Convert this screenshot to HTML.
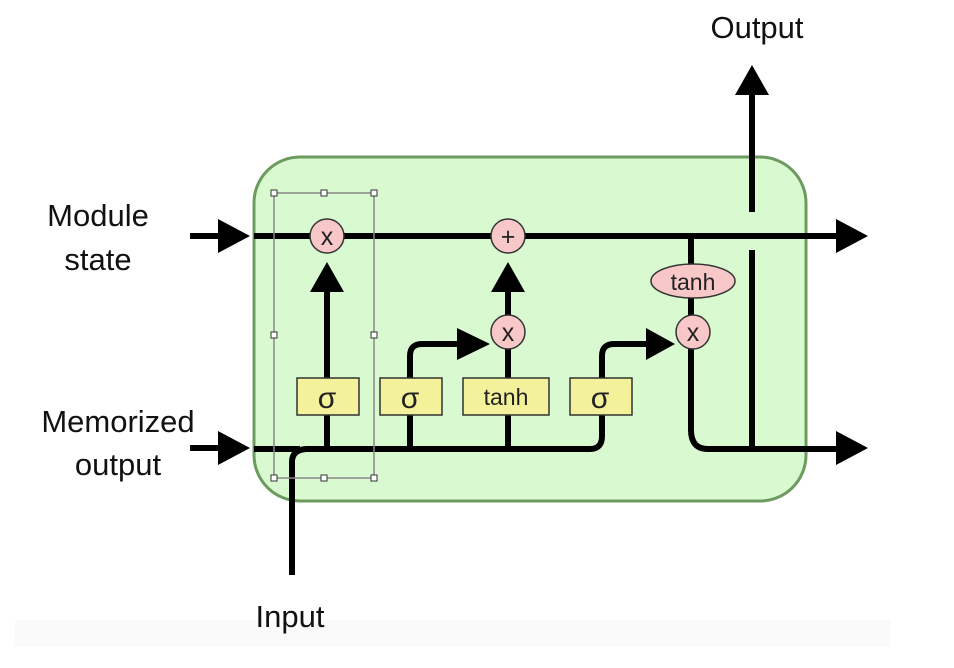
<!DOCTYPE html>
<html><head><meta charset="utf-8"><style>
html,body{margin:0;padding:0;background:#fff;}
svg{display:block;}
text{font-family:"Liberation Sans",sans-serif;}
</style></head><body>
<svg width="954" height="668" viewBox="0 0 954 668">
<rect x="15" y="620" width="875" height="27" fill="#fafafa"/>
<rect x="254" y="157" width="552" height="344" rx="46" fill="#d9fad0" stroke="#6d9a5e" stroke-width="3"/>
<g fill="none" stroke="#000" stroke-width="6">
<line x1="190" y1="236" x2="220" y2="236"/>
<line x1="190" y1="448" x2="220" y2="448"/>
<line x1="254" y1="236" x2="840" y2="236"/>
<path d="M292,575 V462 Q292,450 306,449 H590 Q602,449 602,436 V415"/>
<line x1="254" y1="449" x2="300" y2="449"/>
<path d="M602,378 V356 Q602,344 614,344 H655"/>
<path d="M410,449 V356 Q410,344 422,344 H470"/>
<line x1="327" y1="449" x2="327" y2="415"/>
<line x1="327" y1="378" x2="327" y2="290"/>
<line x1="508" y1="449" x2="508" y2="415"/>
<line x1="508" y1="378" x2="508" y2="290"/>
<line x1="691" y1="236" x2="691" y2="264"/>
<line x1="691" y1="298" x2="691" y2="316"/>
<path d="M691,348 V430 Q691,449 708,449 H840"/>
<line x1="752" y1="448" x2="752" y2="250"/>
<line x1="752" y1="212" x2="752" y2="92"/>
</g>
<g fill="#000">
<polygon points="218,219 250,236 218,253"/>
<polygon points="218,431 250,448 218,465"/>
<polygon points="836,219 868,236 836,253"/>
<polygon points="836,431 868,448 836,465"/>
<polygon points="310,292 327,262 344,292"/>
<polygon points="491,292 508,262 525,292"/>
<polygon points="457,328 490,344 457,360"/>
<polygon points="646,328 675,344 646,360"/>
<polygon points="735,95 752,65 769,95"/>
</g>
<g fill="#f8c8c8" stroke="#333" stroke-width="1.5">
<circle cx="327" cy="236" r="17"/>
<circle cx="508" cy="236" r="17"/>
<circle cx="508" cy="332" r="17"/>
<circle cx="693" cy="332" r="17"/>
<ellipse cx="693" cy="281" rx="42" ry="17"/>
</g>
<g fill="#f3f199" stroke="#333" stroke-width="1.5">
<rect x="297" y="378" width="62" height="37"/>
<rect x="380" y="378" width="62" height="37"/>
<rect x="463" y="378" width="86" height="37"/>
<rect x="570" y="378" width="62" height="37"/>
</g>
<g font-size="25" text-anchor="middle" fill="#222">
<text x="327" y="245">x</text>
<text x="508" y="245">+</text>
<text x="508" y="341">x</text>
<text x="693" y="341">x</text>
<text x="693" y="290" font-size="23">tanh</text>
<text x="506" y="405" font-size="23">tanh</text>
<text x="327" y="408" font-size="30">σ</text>
<text x="410" y="408" font-size="30">σ</text>
<text x="600" y="408" font-size="30">σ</text>
</g>
<g fill="none" stroke="#888" stroke-width="1.5">
<rect x="274" y="193" width="100" height="285"/>
</g>
<g fill="#fff" stroke="#333" stroke-width="1">
<rect x="271" y="190" width="6" height="6"/><rect x="321" y="190" width="6" height="6"/><rect x="371" y="190" width="6" height="6"/>
<rect x="271" y="332" width="6" height="6"/><rect x="371" y="332" width="6" height="6"/>
<rect x="271" y="475" width="6" height="6"/><rect x="321" y="475" width="6" height="6"/><rect x="371" y="475" width="6" height="6"/>
</g>
<g font-size="31" text-anchor="middle" fill="#111">
<text x="98" y="226">Module</text>
<text x="98" y="270">state</text>
<text x="118" y="432">Memorized</text>
<text x="118" y="475">output</text>
<text x="757" y="38">Output</text>
<text x="290" y="627">Input</text>
</g>
</svg>
</body></html>
